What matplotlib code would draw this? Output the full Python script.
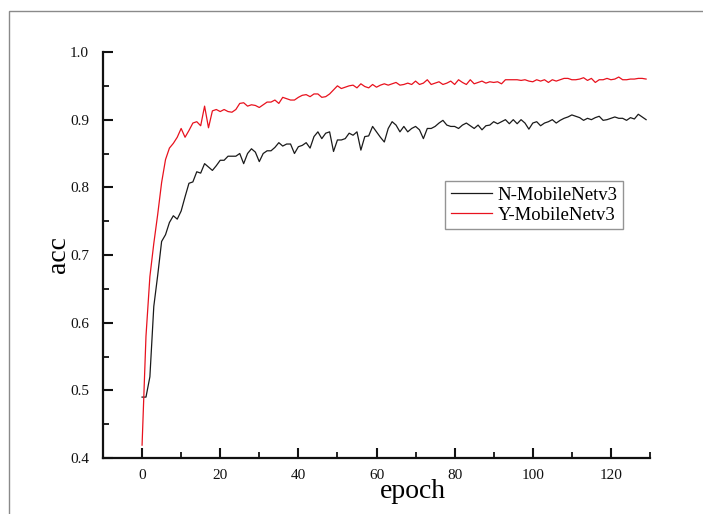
import matplotlib
matplotlib.use("Agg")
import matplotlib.pyplot as plt
from matplotlib.ticker import MultipleLocator
from matplotlib.patches import Rectangle

epochs = list(range(130))

n_mobilenet = [
    0.490, 0.490, 0.520, 0.624, 0.670, 0.720, 0.730, 0.748, 0.758, 0.753,
    0.765, 0.786, 0.806, 0.808, 0.823, 0.821, 0.835, 0.830, 0.825, 0.832,
    0.840, 0.840, 0.846, 0.846, 0.846, 0.850, 0.835, 0.850, 0.857, 0.852,
    0.838, 0.850, 0.854, 0.854, 0.859, 0.866, 0.861, 0.864, 0.864, 0.850,
    0.860, 0.862, 0.866, 0.858, 0.875, 0.882, 0.872, 0.880, 0.882, 0.853,
    0.870, 0.870, 0.872, 0.880, 0.877, 0.882, 0.855, 0.875, 0.876, 0.890,
    0.882, 0.874, 0.867, 0.887, 0.897, 0.892, 0.882, 0.890, 0.882, 0.887,
    0.890, 0.885, 0.872, 0.887, 0.887, 0.890, 0.895, 0.899, 0.892, 0.890,
    0.890, 0.887, 0.892, 0.895, 0.891, 0.887, 0.892, 0.885, 0.891, 0.892,
    0.897, 0.894, 0.897, 0.900, 0.894, 0.900, 0.894, 0.900, 0.895, 0.886,
    0.895, 0.897, 0.891, 0.895, 0.897, 0.900, 0.895, 0.899, 0.902, 0.904,
    0.907, 0.905, 0.903, 0.899, 0.902, 0.900, 0.903, 0.905, 0.899, 0.900,
    0.902, 0.904, 0.902, 0.902, 0.899, 0.903, 0.901, 0.908, 0.904, 0.900,
]

y_mobilenet = [
    0.419, 0.580, 0.668, 0.717, 0.760, 0.807, 0.841, 0.858, 0.865, 0.874,
    0.887, 0.874, 0.884, 0.895, 0.897, 0.891, 0.920, 0.888, 0.913, 0.915,
    0.912, 0.915, 0.912, 0.911, 0.915, 0.924, 0.925, 0.920, 0.922, 0.921,
    0.918, 0.922, 0.926, 0.926, 0.929, 0.924, 0.933, 0.931, 0.929, 0.929,
    0.933, 0.936, 0.937, 0.934, 0.938, 0.938, 0.933, 0.934, 0.938, 0.944,
    0.950, 0.946, 0.948, 0.950, 0.951, 0.947, 0.953, 0.949, 0.947, 0.952,
    0.948, 0.951, 0.953, 0.951, 0.953, 0.955, 0.951, 0.952, 0.954, 0.952,
    0.957, 0.952, 0.954, 0.959, 0.952, 0.954, 0.956, 0.952, 0.954, 0.957,
    0.952, 0.959, 0.955, 0.952, 0.959, 0.953, 0.955, 0.957, 0.954, 0.956,
    0.955, 0.956, 0.953, 0.959, 0.959, 0.959, 0.959, 0.958, 0.959, 0.957,
    0.956, 0.959, 0.957, 0.959, 0.955, 0.959, 0.957, 0.959, 0.961, 0.961,
    0.959, 0.959, 0.960, 0.962, 0.958, 0.961, 0.955, 0.959, 0.959, 0.961,
    0.959, 0.960, 0.963, 0.959, 0.959, 0.960, 0.960, 0.961, 0.961, 0.960,
]

series_labels = ["N-MobileNetv3", "Y-MobileNetv3"]
x_label = "epoch"
y_label = "acc"

plt.rcParams['font.family'] = ['Liberation Serif', 'DejaVu Serif']

fig = plt.figure(figsize=(7.03, 5.14), dpi=100)
W, H = 703, 514
# outer frame (screenshot border)
fig.patches.append(Rectangle((9 / W, -0.05), 1.2, 1 - 11 / H + 0.05,
                             transform=fig.transFigure, fill=False,
                             edgecolor='#8a8a8a', linewidth=1.0))

ax = fig.add_axes([103 / W, 1 - 458 / H, (650 - 103) / W, (458 - 52) / H])
ax.plot(epochs, n_mobilenet, color='#1a1a1a', linewidth=0.9, label=series_labels[0])
ax.plot(epochs, y_mobilenet, color='#e8121e', linewidth=0.9, label=series_labels[1])

ax.set_xlim(-10, 130)
ax.set_ylim(0.4, 1.0)
ax.xaxis.set_major_locator(MultipleLocator(20))
ax.xaxis.set_minor_locator(MultipleLocator(10))
ax.yaxis.set_major_locator(MultipleLocator(0.1))
ax.yaxis.set_minor_locator(MultipleLocator(0.05))
ax.yaxis.set_major_formatter(matplotlib.ticker.FormatStrFormatter('%.1f'))

for s in ['top', 'right']:
    ax.spines[s].set_visible(False)
for s in ['left', 'bottom']:
    ax.spines[s].set_linewidth(1.6)
    ax.spines[s].set_color('#111111')

ax.tick_params(which='major', direction='in', length=7, width=1.5, labelsize=11,
               colors='#111111', pad=10)
ax.tick_params(which='minor', direction='in', length=4, width=1.3, colors='#111111')
ax.tick_params(axis='x', which='major', pad=8)

ax.set_xlabel(x_label, fontsize=20)
ax.set_ylabel(y_label, fontsize=20)
ax.xaxis.label.set_va('center')
ax.yaxis.label.set_va('center')
ax.xaxis.set_label_coords((413 - 103) / 547, (458 - 492) / 406)
ax.yaxis.set_label_coords((58 - 103) / 547, (458 - 255) / 406)

leg = ax.legend(loc='upper left', bbox_to_anchor=(0.625, 0.682), fontsize=13.5,
                frameon=True, fancybox=False, edgecolor='#7a7a7a',
                handlelength=2.2, handletextpad=0.3, borderpad=0.3,
                labelspacing=0.15, borderaxespad=0)
leg.get_frame().set_linewidth(1.0)

fig.savefig('out.png', dpi=100)
